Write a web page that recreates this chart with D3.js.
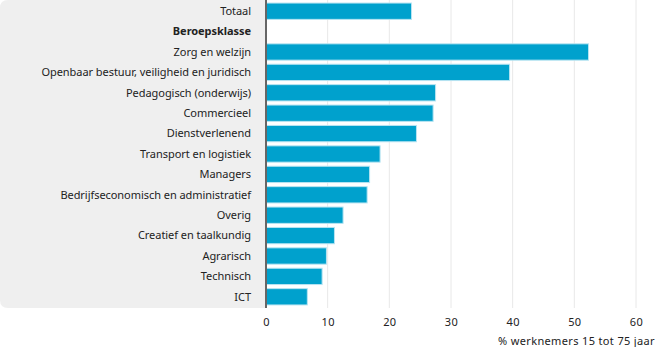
<!DOCTYPE html>
<html>
<head>
<meta charset="utf-8">
<script src="https://cdn.jsdelivr.net/npm/d3@7"></script>
<style>
  body { margin: 0; background: #fff; }
  svg text { font-family: "Noto Sans", sans-serif; fill: #222; }
</style>
</head>
<body>
<div class="container"></div>
<script>
// rows top to bottom; the header row has no value
var rows = ['Totaal', 'Beroepsklasse', 'Zorg en welzijn', 'Openbaar bestuur, veiligheid en juridisch',
  'Pedagogisch (onderwijs)', 'Commercieel', 'Dienstverlenend', 'Transport en logistiek', 'Managers',
  'Bedrijfseconomisch en administratief', 'Overig', 'Creatief en taalkundig', 'Agrarisch', 'Technisch', 'ICT'];
var values = [23.6, null, 52.3, 39.5, 27.5, 27.1, 24.4, 18.5, 16.8, 16.4, 12.5, 11.1, 9.8, 9.1, 6.7];
var ticks = [0, 10, 20, 30, 40, 50, 60];
var axisTitle = '% werknemers 15 tot 75 jaar';

var data = rows.map(function(r, i) { return { name: r, value: values[i] }; });

/* ===== SET UP CHART ===== */

var w = 656, h = 347;
var plotLeft = 266, plotRight = 636;
var plotTop = 1, plotBottom = 307;

var svg = d3.select('.container')
  .append('svg')
  .attr('width', w)
  .attr('height', h);

var xScale = d3.scaleLinear()
  .domain([0, 60])
  .range([plotLeft, plotRight]);

var yScale = d3.scaleBand()
  .domain(rows)
  .range([plotTop, plotBottom])
  .paddingInner(0.2)
  .paddingOuter(0.1);

/* ===== LABEL PANEL ===== */

svg.append('path')
  .attr('d', 'M8,0 H' + plotLeft + ' V' + (plotBottom + 1) + ' H8 Q0,' + (plotBottom + 1) + ' 0,' + (plotBottom - 7) + ' V8 Q0,0 8,0 Z')
  .attr('fill', '#efefef');

/* ===== GRID ===== */

svg.append('g')
  .selectAll('line')
  .data(ticks.slice(1))
  .enter()
  .append('line')
  .attr('x1', function(d) { return xScale(d); })
  .attr('x2', function(d) { return xScale(d); })
  .attr('y1', 0)
  .attr('y2', plotBottom + 1)
  .attr('stroke', '#e8e8e8')
  .attr('stroke-width', 1);

/* ===== BARS ===== */

svg.append('g')
  .selectAll('rect')
  .data(data.filter(function(d) { return d.value !== null; }))
  .enter()
  .append('rect')
  .attr('x', xScale(0))
  .attr('y', function(d) { return yScale(d.name); })
  .attr('width', function(d) { return xScale(d.value) - xScale(0); })
  .attr('height', yScale.bandwidth())
  .attr('fill', '#00a1cd')
  .attr('stroke', '#b8e4f2')
  .attr('stroke-width', 1);

/* ===== ROW LABELS ===== */

svg.append('g')
  .selectAll('text')
  .data(data)
  .enter()
  .append('text')
  .text(function(d) { return d.name; })
  .attr('x', plotLeft - 15)
  .attr('y', function(d) { return yScale(d.name) + yScale.bandwidth() / 2; })
  .attr('dy', '0.35em')
  .attr('text-anchor', 'end')
  .attr('font-size', '11px')
  .attr('letter-spacing', '-0.05px')
  .attr('font-weight', function(d) { return d.value === null ? 'bold' : 'normal'; });

/* ===== AXES ===== */

svg.append('line')
  .attr('x1', plotLeft)
  .attr('x2', plotLeft)
  .attr('y1', 0)
  .attr('y2', plotBottom + 1)
  .attr('stroke', '#666')
  .attr('stroke-width', 2);

var xAxis = d3.axisBottom(xScale)
  .tickValues(ticks)
  .tickSize(0)
  .tickPadding(0);

var ax = svg.append('g')
  .attr('transform', 'translate(0,' + 318 + ')')
  .call(xAxis);
ax.select('.domain').remove();
ax.selectAll('text')
  .style('font-family', '"Noto Sans", sans-serif')
  .style('font-size', '11px')
  .style('letter-spacing', '0.4px')
  .style('fill', '#222');

svg.append('text')
  .text(axisTitle)
  .attr('x', 655)
  .attr('y', 345)
  .attr('text-anchor', 'end')
  .attr('font-size', '11px')
  .attr('letter-spacing', '0.35px');
</script>
</body>
</html>
